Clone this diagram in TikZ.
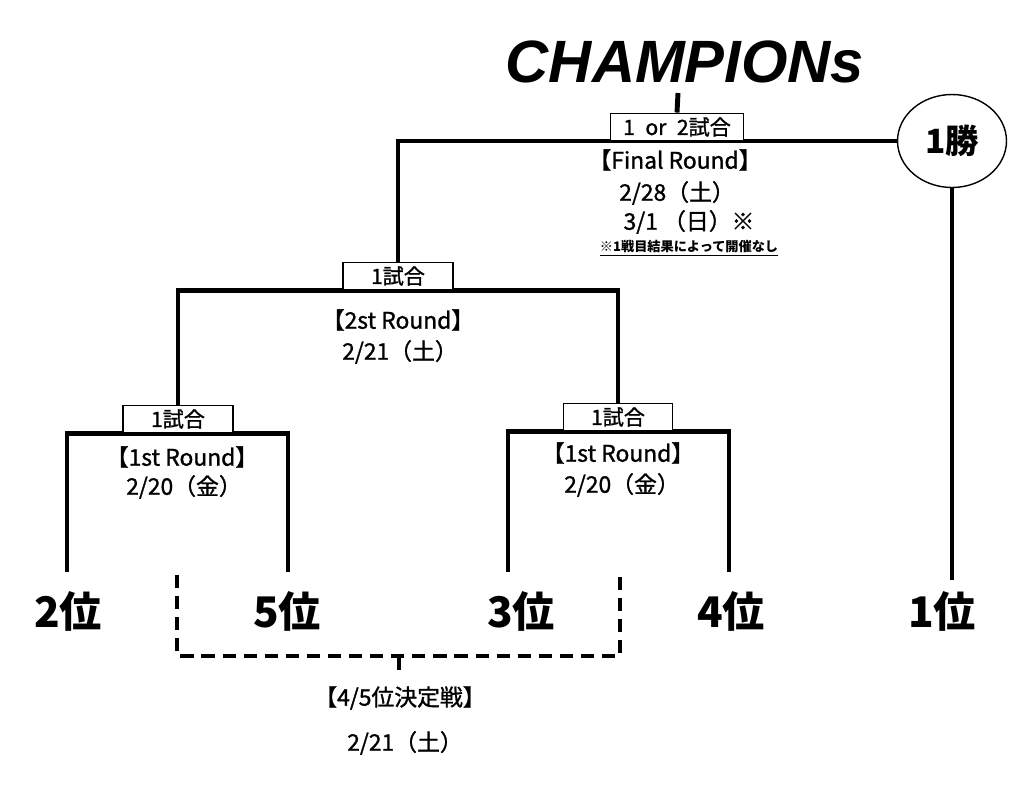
\documentclass[tikz,border=0pt]{standalone}
\usepackage{fontspec}
\setmainfont{Noto Sans CJK JP}
\newfontfamily\titlefont{Liberation Sans}
\newfontfamily\roundfont{Noto Sans CJK JP}[FakeBold=1.2]
\usetikzlibrary{backgrounds,shapes.geometric}
\tikzset{
  bracket/.style={line width=2.8pt},
  dashbracket/.style={line width=2.6pt,dash pattern=on 7.5pt off 4.5pt},
  matchbox/.style={draw,line width=1.1pt,fill=white,minimum height=0.54cm,inner sep=0pt,
    font=\roundfont\fontsize{12}{12}\selectfont},
  seed/.style={inner sep=0pt,font=\bfseries\fontsize{24}{24}\selectfont},
  roundtxt/.style={inner sep=0pt,font=\roundfont\fontsize{13}{13}\selectfont},
}

\begin{document}
\begin{tikzpicture}[x=0.02cm,y=-0.02cm]
  \useasboundingbox (0,0) rectangle (1024,809);

  % title and final
  \node[font=\titlefont\bfseries\itshape\fontsize{34}{34}\selectfont] (champ) at (685,62) {CHAMPIONs};
  \coordinate (top) at (678,93);
  \node[matchbox,minimum width=2.66cm] (fbox) at (677,127) {1\enspace or\enspace 2試合};
  \node[ellipse,draw,line width=0.8pt,fill=white,minimum width=2.18cm,minimum height=1.86cm,
    inner sep=0pt,font=\bfseries\fontsize{19}{19}\selectfont] (win) at (952,141) {1勝};
  \node[roundtxt] (ftxt) at (675,160) {【Final Round】};
  \node[roundtxt] (fdate) at (677,193) {2/28（土）};
  \node[roundtxt] (fdate2) at (689,222) {3/1 （日）※};
  \node[inner sep=0pt,font=\bfseries\fontsize{7.5}{7.5}\selectfont] (fnote) at (689,248) {\underline{※1戦目結果によって開催なし}};

  % semi final
  \node[matchbox,minimum width=2.2cm] (sbox) at (398,276) {1試合};
  \node[roundtxt] (stxt) at (398,320) {【2st Round】};
  \node[roundtxt] (sdate) at (400,352) {2/21（土）};

  % first round
  \node[matchbox,minimum width=2.2cm] (qboxL) at (178,419) {1試合};
  \node[roundtxt] (qtxtL) at (182,457) {【1st Round】};
  \node[roundtxt] (qdateL) at (184,487) {2/20（金）};
  \node[matchbox,minimum width=2.18cm] (qboxR) at (618,417) {1試合};
  \node[roundtxt] (qtxtR) at (618,453) {【1st Round】};
  \node[roundtxt] (qdateR) at (622,485) {2/20（金）};

  % seeds
  \node[seed] (p2) at (68,611) {2位};
  \node[seed] (p5) at (287,611) {5位};
  \node[seed] (p3) at (521,611) {3位};
  \node[seed] (p4) at (731,611) {4位};
  \node[seed] (p1) at (942,611) {1位};
  \coordinate (e2) at (67,572);
  \coordinate (e5) at (288,572);
  \coordinate (e3) at (508,572);
  \coordinate (e4) at (729,572);
  \coordinate (e1) at (952,580);

  % 4/5 place
  \coordinate (dl) at (177,575);
  \coordinate (dr) at (620,575);
  \coordinate (dmid) at (399,656);
  \coordinate (dstem) at (399,670);
  \node[roundtxt] (ttxt) at (400,698) {【4/5位決定戦】};
  \node[roundtxt] (tdate) at (405,743) {2/21（土）};

  \begin{pgfonlayer}{background}
    \draw[bracket] (top) -- (fbox.north);
    \draw[bracket] (sbox.north) |- (win.west);
    \draw[bracket] (win.south) -- (e1);
    \draw[bracket] (qboxL.north) |- (sbox.south) -| (qboxR.north);
    \draw[bracket] (e2) |- (qboxL.south) -| (e5);
    \draw[bracket] (e3) |- (qboxR.south) -| (e4);
    \draw[dashbracket] (dl) |- (dmid) -| (dr);
    \draw[bracket] (dmid) -- (dstem);
  \end{pgfonlayer}
\end{tikzpicture}
\end{document}
